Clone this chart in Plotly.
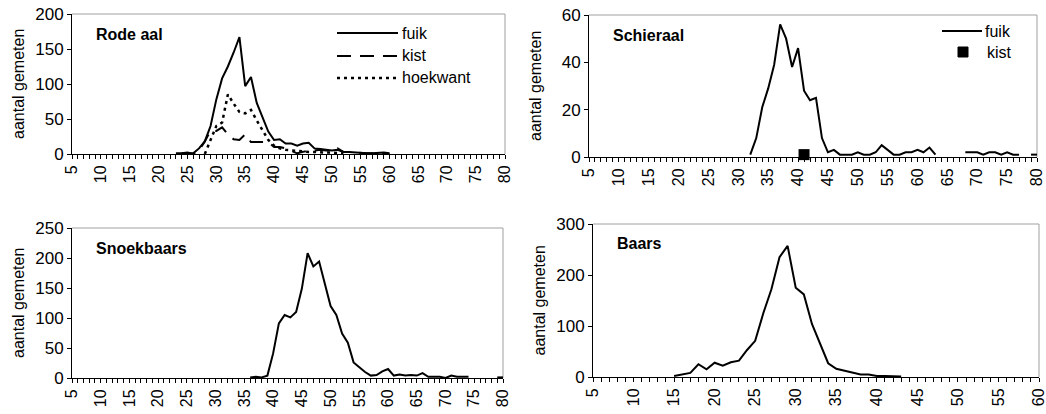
import plotly.graph_objects as go

W, H = 1046, 414
FONT = "Arial, 'Liberation Sans', sans-serif"

# ---------------- data ----------------
# Rode aal
rode_len_fuik = list(range(23, 61))
rode_fuik = [1, 1, 2, 1, 8, 18, 40, 78, 108, 125, 145, 167, 97, 110, 73, 53, 32, 20, 21, 15,
             15, 12, 15, 16, 8, 7, 6, 5, 6, 3, 3, 2, 2, 1, 1, 2, 2, 1]
rode_len_kist = list(range(24, 61))
rode_kist = [1, 2, 0, 5, 18, 33, 33, 38, 28, 21, 20, 28, 17, 17, 18, 17, 10, 10, 8, 5,
             1, 3, 5, 5, 6, 5, 5, 8, 3, 3, 2, 2, 1, 1, 1, 1, 0]
rode_len_hoek = list(range(28, 53))
rode_hoekwant = [0, 20, 40, 45, 85, 72, 60, 58, 63, 48, 35, 20, 12, 8, 6, 5, 5, 4, 3, 3,
                 2, 2, 2, 1, 1]

# Schieraal
schier_len_fuik = list(range(32, 81))
schier_fuik = [1, 8, 21, 29, 39, 56, 50, 38, 46, 28, 24, 25, 8, 2, 3, 1, 1, 1, 2, 1,
               1, 2, 5, 3, 1, 1, 2, 2, 3, 2, 4, 1, None, None, None, None, 2, 2, 2, 1,
               2, 2, 1, 2, 1, 1, None, 1, 1]
schier_len_kist = [41]
schier_kist = [1]

# Snoekbaars
snoek_len = list(range(36, 81))
snoek_fuik = [1, 2, 1, 4, 41, 91, 105, 101, 110, 149, 208, 186, 194, 158, 120, 105, 74, 59, 26, 18,
              10, 4, 5, 11, 15, 4, 6, 4, 5, 4, 8, 2, 2, 2, 0, 4, 2, 2, 2, None,
              None, None, None, 1, 1]

# Baars
baars_len = list(range(15, 44))
baars_fuik = [2, 5, 8, 25, 15, 28, 22, 29, 32, 53, 71, 125, 172, 235, 257, 175, 162, 104, 66, 27,
              16, 12, 9, 5, 5, 2, 2, 1, 1]

# ---------------- layout helpers ----------------
def px_x(p):
    return p / W


def px_y(p):
    return 1 - p / H


panels = [
    dict(xl=72, xr=505, yt=14, yb=154, yr=[0, 200], dt=50, xrng=[5, 80], title="Rode aal"),
    dict(xl=589, xr=1037, yt=15, yb=157, yr=[0, 60], dt=20, xrng=[5, 80], title="Schieraal"),
    dict(xl=72, xr=503, yt=228, yb=378, yr=[0, 250], dt=50, xrng=[5, 80], title="Snoekbaars"),
    dict(xl=593, xr=1039, yt=224, yb=377, yr=[0, 300], dt=100, xrng=[5, 60], title="Baars"),
]

FS = 16

fig = go.Figure()

LW = 2
line_solid = dict(color="black", width=LW)
line_dash = dict(color="black", width=LW, dash="14px,9px")
line_dot = dict(color="black", width=2.5, dash="3px,4px")

fig.add_trace(go.Scatter(x=rode_len_fuik, y=rode_fuik, mode="lines", line=line_solid,
                         name="fuik", xaxis="x", yaxis="y"))
fig.add_trace(go.Scatter(x=rode_len_kist, y=rode_kist, mode="lines", line=line_dash,
                         name="kist", xaxis="x", yaxis="y"))
fig.add_trace(go.Scatter(x=rode_len_hoek, y=rode_hoekwant, mode="lines", line=line_dot,
                         name="hoekwant", xaxis="x", yaxis="y"))

fig.add_trace(go.Scatter(x=schier_len_fuik, y=schier_fuik, mode="lines", line=line_solid,
                         name="fuik", xaxis="x2", yaxis="y2"))
fig.add_trace(go.Scatter(x=schier_len_kist, y=schier_kist, mode="markers",
                         marker=dict(symbol="square", size=11, color="black"),
                         name="kist", xaxis="x2", yaxis="y2", cliponaxis=False))

fig.add_trace(go.Scatter(x=snoek_len, y=snoek_fuik, mode="lines", line=line_solid,
                         name="fuik", xaxis="x3", yaxis="y3"))
fig.add_trace(go.Scatter(x=baars_len, y=baars_fuik, mode="lines", line=line_solid,
                         name="fuik", xaxis="x4", yaxis="y4"))

layout = dict(
    template="none",
    width=W, height=H,
    autosize=False,
    margin=dict(l=0, r=0, t=0, b=0, pad=0, autoexpand=False),
    paper_bgcolor="white", plot_bgcolor="white",
    showlegend=False,
    font=dict(family=FONT, color="black", size=FS),
)

shapes = []
annotations = []
for i, p in enumerate(panels, start=1):
    sx = "" if i == 1 else str(i)
    layout["xaxis" + sx] = dict(
        domain=[px_x(p["xl"]), px_x(p["xr"])],
        anchor="y" + sx,
        range=p["xrng"],
        automargin=False,
        ticklabeloverflow="allow",
        tickmode="linear", tick0=5, dtick=5,
        tickangle=-90,
        ticks="outside", ticklen=4, tickwidth=1, tickcolor="black",
        minor=dict(dtick=1, tick0=5, ticks="outside", ticklen=4, tickwidth=1,
                   tickcolor="black", showgrid=False),
        showline=True, linecolor="black", linewidth=1,
        showgrid=False, zeroline=False,
        tickfont=dict(family=FONT, size=FS, color="black"),
        fixedrange=True,
    )
    layout["yaxis" + sx] = dict(
        domain=[px_y(p["yb"]), px_y(p["yt"])],
        anchor="x" + sx,
        range=p["yr"],
        automargin=False,
        ticklabeloverflow="allow",
        tickmode="linear", tick0=0, dtick=p["dt"],
        ticks="outside", ticklen=4, tickwidth=1, tickcolor="black",
        showline=True, linecolor="black", linewidth=1,
        showgrid=False, zeroline=False,
        tickfont=dict(family=FONT, size=FS + 1, color="black"),
        fixedrange=True,
    )
    xd = "x" + sx + " domain"
    yd = "y" + sx + " domain"
    shapes.append(dict(type="line", xref=xd, yref=yd, x0=0, x1=1, y0=1, y1=1,
                       line=dict(color="#a0a0a0", width=1), layer="below"))
    shapes.append(dict(type="line", xref=xd, yref=yd, x0=1, x1=1, y0=0, y1=1,
                       line=dict(color="#a0a0a0", width=1), layer="below"))
    annotations.append(dict(text="<b>" + p["title"] + "</b>", xref="paper", yref="paper",
                            x=px_x(p["xl"] + 22), y=px_y(p["yt"] + 20),
                            xanchor="left", yanchor="middle", showarrow=False,
                            font=dict(family=FONT, size=FS, color="black")))
    annotations.append(dict(text="aantal gemeten", xref="paper", yref="paper",
                            x=px_x(p["xl"] - 54), y=px_y((p["yt"] + p["yb"]) / 2),
                            xanchor="center", yanchor="middle", textangle=-90,
                            showarrow=False,
                            font=dict(family=FONT, size=FS, color="black")))

leg1 = [("fuik", dict(color="black", width=2), 33),
        ("kist", dict(color="black", width=2, dash="14px,9px"), 56),
        ("hoekwant", dict(color="black", width=2.5, dash="3px,4px"), 78)]
for name, ln, yy in leg1:
    shapes.append(dict(type="line", xref="paper", yref="paper",
                       x0=px_x(337), x1=px_x(398), y0=px_y(yy), y1=px_y(yy), line=ln))
    annotations.append(dict(text=name, xref="paper", yref="paper", x=px_x(400), y=px_y(yy),
                            xanchor="left", yanchor="middle", showarrow=False,
                            font=dict(family=FONT, size=FS, color="black")))

shapes.append(dict(type="line", xref="paper", yref="paper",
                   x0=px_x(942), x1=px_x(982), y0=px_y(31), y1=px_y(31),
                   line=dict(color="black", width=2)))
annotations.append(dict(text="fuik", xref="paper", yref="paper", x=px_x(983), y=px_y(31),
                        xanchor="left", yanchor="middle", showarrow=False,
                        font=dict(family=FONT, size=FS, color="black")))
shapes.append(dict(type="rect", xref="paper", yref="paper",
                   x0=px_x(958), x1=px_x(968), y0=px_y(57), y1=px_y(47),
                   line=dict(color="black", width=1), fillcolor="black"))
annotations.append(dict(text="kist", xref="paper", yref="paper", x=px_x(985), y=px_y(52),
                        xanchor="left", yanchor="middle", showarrow=False,
                        font=dict(family=FONT, size=FS, color="black")))

layout["shapes"] = shapes
layout["annotations"] = annotations
fig.update_layout(**layout)

fig.write_html("out.html", config={"displayModeBar": False, "staticPlot": True})
